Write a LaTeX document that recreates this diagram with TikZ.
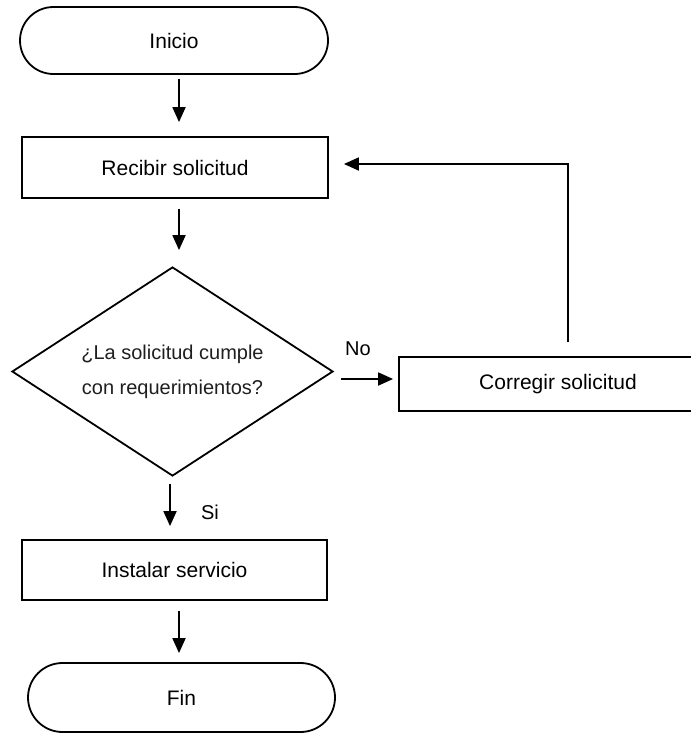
\documentclass[tikz,border=0pt]{standalone}
\usepackage{fontspec}
\setmainfont{Liberation Sans}
\usetikzlibrary{shapes.misc,shapes.geometric,arrows.meta,calc}
\tikzset{
  base/.style={draw=black, line width=1.8pt, inner sep=0pt, align=center, font=\fontsize{21}{25}\selectfont},
  term/.style={base, rounded rectangle},
  procbox/.style={base, rectangle},
  decbox/.style={base, diamond, aspect=1.536, font=\fontsize{20}{35}\selectfont, text=black!88},
  arr/.style={line width=1.8pt, -{Triangle[length=15pt,width=13pt]}},
  lbl/.style={font=\fontsize{20}{24}\selectfont, inner sep=0pt}
}
\begin{document}
\begin{tikzpicture}[x=1pt,y=-1pt]
\useasboundingbox (0,0) rectangle (691,734);
\clip (0,0) rectangle (691,734);
\fill[white] (0,0) rectangle (691,734);

\node[term, minimum width=308pt, minimum height=67pt] (inicio) at (174,40.5) {Inicio};
\node[procbox, minimum width=306pt, minimum height=61pt] (recibir) at (175,167.5) {Recibir solicitud};
\node[decbox, minimum width=321pt, minimum height=209pt] (dec) at (172.5,371.5) {¿La solicitud cumple\\con requerimientos?};
\node[procbox, minimum width=318pt, minimum height=54pt] (corr) at (558,384) {Corregir solicitud};
\node[procbox, minimum width=305pt, minimum height=60pt] (inst) at (174.5,570) {Instalar servicio};
\node[term, minimum width=307pt, minimum height=69pt] (fin) at (181.5,697.5) {Fin};

\draw[arr] ($(inicio.south)+(5,4)$) -- ($(recibir.north)+(4,-14)$);
\draw[arr] ($(recibir.south)+(4,10)$) -- ($(dec.north)+(6.5,-16)$);
\draw[arr] ($(dec.south)+(-2.5,7)$) -- ($(inst.north)+(-4.5,-13)$);
\draw[arr] ($(inst.south)+(4.5,10)$) -- ($(fin.north)+(-2.5,-9)$);
\draw[arr] ($(dec.east)+(7,7.5)$) -- ($(corr.west)+(-5,-5)$);

\coordinate (fb) at ($(corr.north)+(10,-14)$);
\draw[arr] (fb) -- (fb |- 0,164) -- ($(recibir.east)+(15,-3.5)$);

\node[lbl] (no) at (358,349) {No};
\node[lbl] (si) at (210,512) {Si};
\end{tikzpicture}
\end{document}
